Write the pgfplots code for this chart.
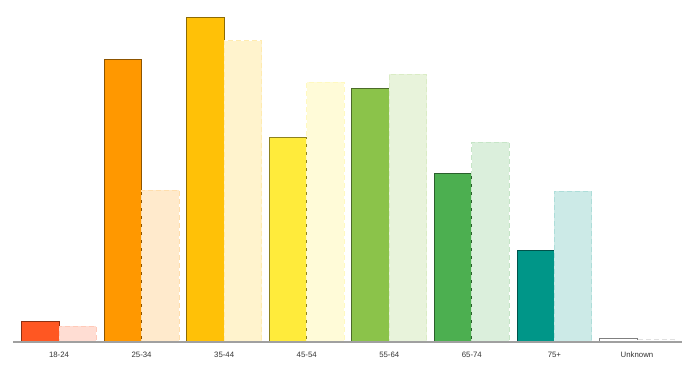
\documentclass[border=0pt]{standalone}
\usepackage{fontspec}
\setmainfont{Liberation Sans}
\usepackage{pgfplots}
\pgfplotsset{compat=1.18}
\definecolor{c1}{HTML}{FF5722}
\definecolor{c2}{HTML}{FF9800}
\definecolor{c3}{HTML}{FFC107}
\definecolor{c4}{HTML}{FFEB3B}
\definecolor{c5}{HTML}{8BC34A}
\definecolor{c6}{HTML}{4CAF50}
\definecolor{c7}{HTML}{009688}
\definecolor{axisgray}{HTML}{A0A0A0}
\definecolor{labelgray}{HTML}{333333}
\pgfplotsset{
  solidbar/.style={fill=#1, draw=#1!55!black, line width=0.8pt, bar shift=-18.75pt},
  lightbar/.style={fill=#1!20, draw=#1!32, line width=0.9pt, dash pattern=on 5pt off 3pt, bar shift=18.75pt},
}
\begin{document}
\begin{tikzpicture}
\path[use as bounding box] (0,0) rectangle (700pt,368pt);
\begin{axis}[
  at={(13pt,26pt)}, anchor=south west,
  scale only axis, width=669pt, height=342pt,
  ybar, bar width=37.5pt,
  xmin=-0.557, xmax=7.545, ymin=0, ymax=342,
  axis x line=bottom, axis y line=none,
  axis line style={-, draw=axisgray, line width=1.3pt},
  xtick={0,1,2,3,4,5,6,7},
  xticklabels={18-24,25-34,35-44,45-54,55-64,65-74,75+,Unknown},
  major tick length=0pt,
  xticklabel style={font=\fontsize{7.8}{9}\selectfont, text=labelgray, yshift=-6pt, text height=6pt, text depth=1.5pt},
  axis on top,
  clip=false,
]
\addplot[solidbar=c1] coordinates {(0,21)};
\addplot[lightbar=c1] coordinates {(0,16)};
\addplot[solidbar=c2] coordinates {(1,283)};
\addplot[lightbar=c2] coordinates {(1,152)};
\addplot[solidbar=c3] coordinates {(2,325)};
\addplot[lightbar=c3] coordinates {(2,301.5)};
\addplot[solidbar=c4] coordinates {(3,205)};
\addplot[lightbar=c4] coordinates {(3,260)};
\addplot[solidbar=c5] coordinates {(4,254)};
\addplot[lightbar=c5] coordinates {(4,268)};
\addplot[solidbar=c6] coordinates {(5,169)};
\addplot[lightbar=c6] coordinates {(5,200)};
\addplot[solidbar=c7] coordinates {(6,92)};
\addplot[lightbar=c7] coordinates {(6,151)};
\addplot[fill=white, draw=black!50, line width=0.8pt, bar shift=-18.75pt] coordinates {(7,4)};
\addplot[fill=white, draw=black!12, line width=0.9pt, dash pattern=on 5pt off 3pt, bar shift=18.75pt] coordinates {(7,2.5)};
\end{axis}
\end{tikzpicture}
\end{document}
